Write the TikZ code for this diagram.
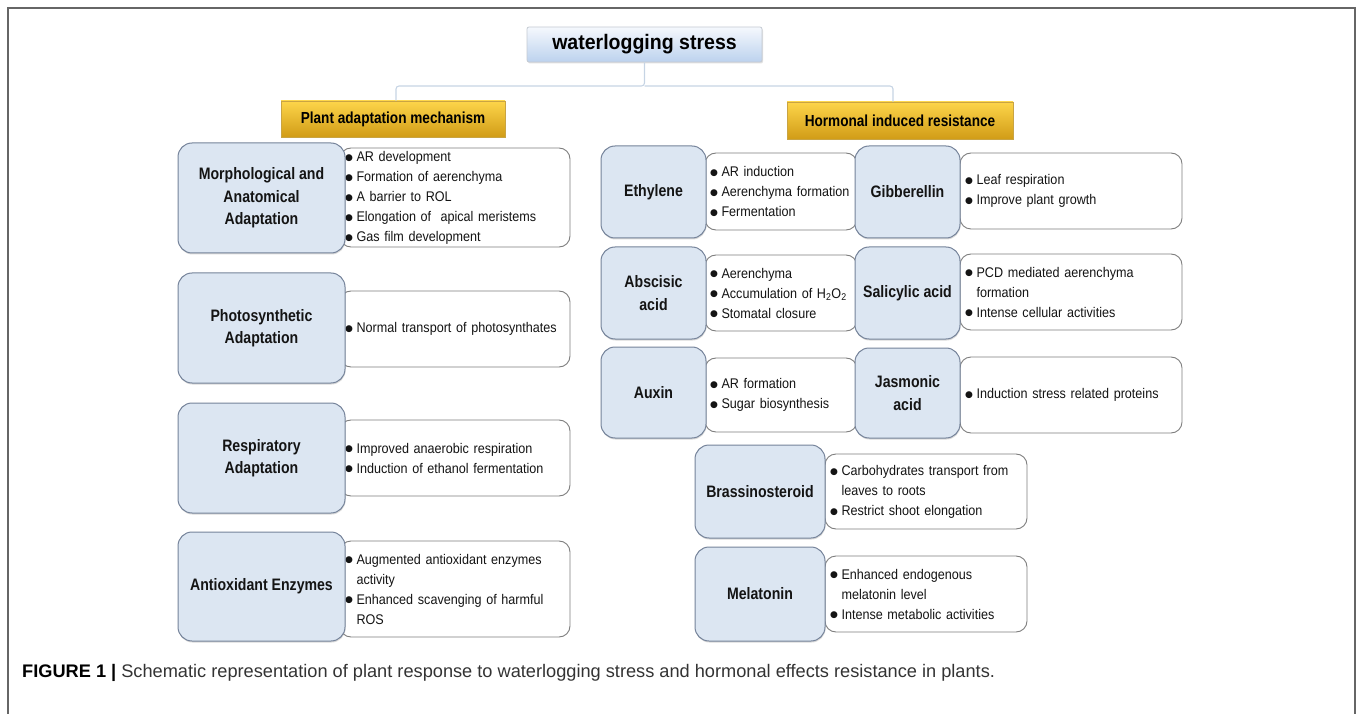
\documentclass[tikz,border=0pt]{standalone}
\usepackage{graphicx}
\usepackage{fontspec}
\setmainfont{Liberation Sans}[FakeStretch=0.9]
\newfontfamily\lblfont{Liberation Sans}[FakeStretch=0.85]
\newfontfamily\headfont{Liberation Sans}[FakeStretch=0.93]
\newfontfamily\capfont{Liberation Sans}
\newfontfamily\symfont{DejaVu Sans}
\usepackage{tikz}
\usetikzlibrary{shadows}
\definecolor{lblfill}{HTML}{DCE6F2}
\definecolor{lblline}{HTML}{75839A}
\definecolor{infoline}{HTML}{7E7E7E}
\definecolor{headtop}{HTML}{F5F8FD}
\definecolor{headbot}{HTML}{BCD2EE}
\definecolor{headline}{HTML}{C4CAD2}
\definecolor{cattop}{HTML}{FDD54A}
\definecolor{catbot}{HTML}{D19C17}
\definecolor{catline}{HTML}{C9A443}
\definecolor{treeline}{HTML}{C6D4E4}
\newcommand\bl{\makebox[11.5pt][l]{\raisebox{1.1pt}{\symfont\fontsize{9}{9}\selectfont ●}}}
\newcommand\cont{\hspace*{11.5pt}}

\begin{document}
\begin{tikzpicture}[x=1pt,y=-1pt,
  lbl/.style={draw=lblline, fill=lblfill, line width=1pt, rounded corners=14pt, inner sep=0pt, align=center, text=black!92, font=\lblfont\bfseries\fontsize{16.6}{22.5}\selectfont, drop shadow={shadow xshift=0.5pt, shadow yshift=-1.5pt, opacity=0.3}},
  info/.style={draw=infoline, fill=white, line width=0.9pt, rounded corners=11pt, inner xsep=5pt, inner ysep=0pt, align=left, text=black!92, font=\fontsize{14}{20}\selectfont},
  head/.style={draw=headline, top color=headtop, bottom color=headbot, line width=0.8pt, rounded corners=2pt, inner sep=0pt, font=\headfont\bfseries\fontsize{21}{24}\selectfont, drop shadow={shadow xshift=1pt, shadow yshift=-1.5pt, opacity=0.25}},
  cat/.style={draw=catline, top color=cattop, bottom color=catbot, line width=0.6pt, inner sep=0pt, font=\lblfont\bfseries\fontsize{16}{19}\selectfont, drop shadow={shadow xshift=1pt, shadow yshift=-1.5pt, opacity=0.3}},
  tree/.style={draw=treeline, line width=1.1pt, rounded corners=3pt},
  frame/.style={draw=black!60, line width=1.5pt}]
\useasboundingbox (0,0) rectangle (1358,714);
\draw[frame] (8,714) -- (8,8) -- (1355,8) -- (1355,714);

\node[head, minimum width=235pt, minimum height=35pt] (title) at (644.5,44.5) {waterlogging stress};
\node[cat, minimum width=224pt, minimum height=36pt] (plant) at (393,119) {Plant adaptation mechanism};
\node[cat, minimum width=226pt, minimum height=37pt] (horm) at (900,120.5) {Hormonal induced resistance};
\coordinate (split) at (644.5,86);
\draw[tree] (title.south) -- (split) -| ([xshift=3pt]plant.north);
\draw[tree] (split) -| ([xshift=-7pt]horm.north);

\node[info, text width=220pt, minimum height=99pt] (morphtx) at (455,197.5) {\bl AR development\\ \bl Formation of aerenchyma\\ \bl A barrier to ROL\\ \bl Elongation of\ \ apical meristems\\ \bl Gas film development};
\node[lbl, minimum width=167pt, minimum height=110pt] (morph) at (261.5,198) {Morphological and\\Anatomical\\Adaptation};
\node[info, text width=220pt, minimum height=76pt] (phototx) at (455,329) {\bl Normal transport of photosynthates};
\node[lbl, minimum width=167pt, minimum height=110pt] (photo) at (261.5,328) {Photosynthetic\\Adaptation};
\node[info, text width=220pt, minimum height=76pt] (resptx) at (455,458) {\bl Improved anaerobic respiration\\ \bl Induction of ethanol fermentation};
\node[lbl, minimum width=167pt, minimum height=110pt] (resp) at (261.5,458) {Respiratory\\Adaptation};
\node[info, text width=220pt, minimum height=96pt] (antioxtx) at (455,589) {\bl Augmented antioxidant enzymes\\ \cont activity\\ \bl Enhanced scavenging of harmful\\ \cont ROS};
\node[lbl, minimum width=167pt, minimum height=109pt] (antiox) at (261.5,586.5) {Antioxidant Enzymes};

\node[info, text width=142pt, minimum height=77pt] (ethtx) at (781,191.5) {\bl AR induction\\ \bl Aerenchyma formation\\ \bl Fermentation};
\node[info, text width=142pt, minimum height=76pt] (abatx) at (781,293) {\bl Aerenchyma\\ \bl Accumulation of H\textsubscript{2}O\textsubscript{2}\\ \bl Stomatal closure};
\node[info, text width=142pt, minimum height=74pt] (auxtx) at (781,395) {\bl AR formation\\ \bl Sugar biosynthesis};
\node[lbl, minimum width=105pt, minimum height=92pt] (eth) at (653.5,192) {Ethylene};
\node[lbl, minimum width=105pt, minimum height=92pt] (aba) at (653.5,293) {Abscisic\\acid};
\node[lbl, minimum width=105pt, minimum height=91pt] (aux) at (653.5,392.5) {Auxin};

\node[info, text width=212pt, minimum height=76pt] (gibtx) at (1071,191) {\bl Leaf respiration\\ \bl Improve plant growth};
\node[info, text width=212pt, minimum height=76pt] (saltx) at (1071,292) {\bl PCD mediated aerenchyma\\ \cont formation\\ \bl Intense cellular activities};
\node[info, text width=212pt, minimum height=76pt] (jastx) at (1071,395) {\bl Induction stress related proteins};
\node[lbl, minimum width=105pt, minimum height=92pt] (gib) at (907.5,192) {Gibberellin};
\node[lbl, minimum width=105pt, minimum height=92pt] (sal) at (907.5,293) {Salicylic acid};
\node[lbl, minimum width=105pt, minimum height=90pt] (jas) at (907.5,393) {Jasmonic\\acid};

\node[info, text width=192pt, minimum height=75pt] (bratx) at (926,491.5) {\bl Carbohydrates transport from\\ \cont leaves to roots\\ \bl Restrict shoot elongation};
\node[lbl, minimum width=130pt, minimum height=93pt] (bra) at (760,491.5) {Brassinosteroid};
\node[info, text width=192pt, minimum height=76pt] (meltx) at (926,594) {\bl Enhanced endogenous\\ \cont melatonin level\\ \bl Intense metabolic activities};
\node[lbl, minimum width=130pt, minimum height=94pt] (mel) at (760,594) {Melatonin};

\node[anchor=west, inner sep=0pt, text=black!80, font=\capfont\fontsize{18.2}{21}\selectfont] (caption) at (22,673) {\textcolor{black}{\bfseries FIGURE 1 |} Schematic representation of plant response to waterlogging stress and hormonal effects resistance in plants.};
\end{tikzpicture}
\end{document}
